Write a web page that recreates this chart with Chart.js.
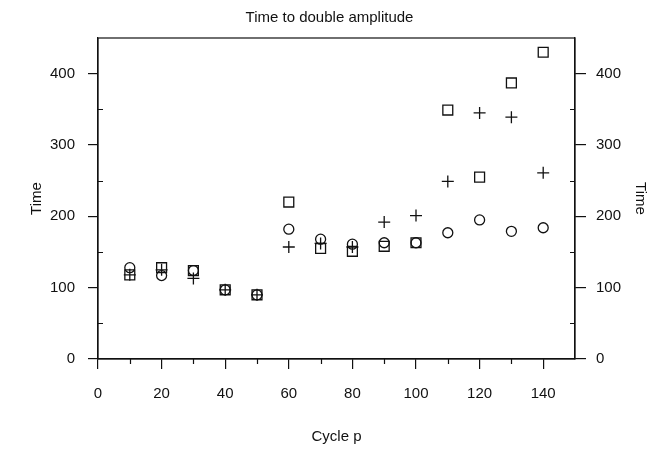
<!DOCTYPE html>
<html>
<head>
<meta charset="utf-8">
<script src="https://cdn.jsdelivr.net/npm/chart.js@4"></script>
<style>
	html, body { margin: 0; padding: 0; background: #fff; }
	#wrap { width: 659px; height: 464px; }
</style>
</head>
<body>
<div id="wrap"><canvas id="chart" width="659" height="464"></canvas></div>
<script>
(() => {
	'use strict'

	// Cycle numbers (x)
	const cycles = [10, 20, 30, 40, 50, 60, 70, 80, 90, 100, 110, 120, 130, 140];

	// Time values per marker type
	const squareTimes = [118, 128, 124, 97, 90, 220, 155, 151, 158, 163, 349, 255, 387, 430];
	const circleTimes = [128, 117, 124, 97, 90, 182, 168, 161, 163, 163, 177, 195, 179, 184];
	const plusTimes = [118, 125, 113, 97, 90, 157, 162, 157, 192, 201, 249, 345, 339, 261];

	// Tick labels
	const xTicks = [0, 20, 40, 60, 80, 100, 120, 140];
	const yTicks = [0, 100, 200, 300, 400];

	// Minor tick positions
	const xMinor = [10, 30, 50, 70, 90, 110, 130];
	const yMinor = [50, 150, 250, 350];

	const ink = '#111';
	const fontFamily = '"Liberation Sans", Arial, sans-serif';

	function toPoints(values) {
		return cycles.map((c, i) => ({ x: c, y: values[i] }));
	}

	// Frame round the plot area plus the short minor ticks
	const framePlugin = {
		id: 'frame',
		afterDraw(chart) {
			const { ctx, chartArea: a, scales } = chart;
			ctx.save();
			ctx.strokeStyle = ink;
			ctx.lineWidth = 1.2;
			ctx.strokeRect(a.left, a.top, a.right - a.left, a.bottom - a.top);
			ctx.beginPath();
			xMinor.forEach(v => {
				const px = Math.round(scales.x.getPixelForValue(v)) + 0.5;
				ctx.moveTo(px, a.bottom);
				ctx.lineTo(px, a.bottom + 5);
			});
			yMinor.forEach(v => {
				const py = Math.round(scales.y.getPixelForValue(v)) + 0.5;
				ctx.moveTo(a.left, py);
				ctx.lineTo(a.left + 5, py);
				ctx.moveTo(a.right, py);
				ctx.lineTo(a.right - 5, py);
			});
			ctx.stroke();
			ctx.restore();
		}
	};

	const tickFont = { family: fontFamily, size: 15 };
	const titleFont = { family: fontFamily, size: 15, lineHeight: 1.2 };

	const config = {
		type: 'scatter',
		data: {
			datasets: [
				{
					label: 'square',
					data: toPoints(squareTimes),
					pointStyle: 'rect',
					pointRadius: 7,
					borderColor: ink,
					backgroundColor: 'rgba(0,0,0,0)',
					borderWidth: 1.3
				},
				{
					label: 'circle',
					data: toPoints(circleTimes),
					pointStyle: 'circle',
					pointRadius: 5,
					borderColor: ink,
					backgroundColor: 'rgba(0,0,0,0)',
					borderWidth: 1.3
				},
				{
					label: 'plus',
					data: toPoints(plusTimes),
					pointStyle: 'cross',
					pointRadius: 6,
					borderColor: ink,
					borderWidth: 1.3
				}
			]
		},
		options: {
			responsive: false,
			animation: false,
			layout: { padding: 0 },
			plugins: {
				legend: { display: false },
				tooltip: { enabled: false },
				title: {
					display: true,
					text: 'Time to double amplitude',
					color: ink,
					font: { family: fontFamily, size: 15, weight: 'normal', lineHeight: 1.2 },
					padding: { top: 9, bottom: 11 }
				}
			},
			scales: {
				x: {
					type: 'linear',
					position: 'bottom',
					min: 0,
					max: 150,
					afterFit(scale) { scale.height = 105; },
					afterBuildTicks(scale) { scale.ticks = xTicks.map(v => ({ value: v })); },
					ticks: { color: ink, font: tickFont, padding: 16, maxRotation: 0 },
					grid: { drawOnChartArea: false, drawTicks: true, tickLength: 10, color: ink, lineWidth: 1.2 },
					border: { display: true, color: ink, width: 1.2 },
					title: { display: true, text: 'Cycle p', color: ink, font: titleFont, padding: { top: 0, bottom: 18 } }
				},
				y: {
					type: 'linear',
					position: 'left',
					min: 0,
					max: 450,
					afterFit(scale) { scale.width = 98; },
					afterBuildTicks(scale) { scale.ticks = yTicks.map(v => ({ value: v })); },
					ticks: { color: ink, font: tickFont, padding: 13 },
					grid: { drawOnChartArea: false, drawTicks: true, tickLength: 10, color: ink, lineWidth: 1.2 },
					border: { display: true, color: ink, width: 1.2 },
					title: { display: true, text: 'Time', color: ink, font: titleFont, padding: { top: 28, bottom: 0 } }
				},
				y2: {
					type: 'linear',
					position: 'right',
					min: 0,
					max: 450,
					afterFit(scale) { scale.width = 84; },
					afterBuildTicks(scale) { scale.ticks = yTicks.map(v => ({ value: v })); },
					ticks: { color: ink, font: tickFont, padding: 10 },
					grid: { drawOnChartArea: false, drawTicks: true, tickLength: 11, color: ink, lineWidth: 1.2 },
					border: { display: true, color: ink, width: 1.2 },
					title: { display: true, text: 'Time', color: ink, font: titleFont, padding: { top: 10, bottom: 0 } }
				}
			}
		},
		plugins: [framePlugin]
	};

	const myChart = new Chart(document.getElementById('chart'), config);
})()
</script>
</body>
</html>
